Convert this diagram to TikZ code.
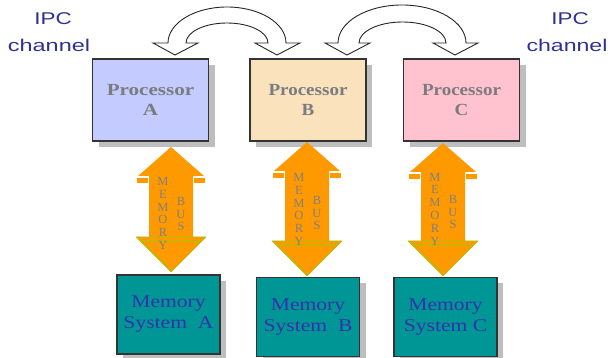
\documentclass[tikz,border=0pt]{standalone}
\usepackage{fontspec}
\usepackage{graphicx}
\setmainfont{Liberation Serif}
\newfontfamily\ipcfont{Liberation Sans}
\usetikzlibrary{shadows}
\definecolor{procA}{RGB}{196,204,255}
\definecolor{procB}{RGB}{250,226,188}
\definecolor{procC}{RGB}{255,194,206}
\definecolor{memteal}{RGB}{0,150,150}
\definecolor{ipcblue}{RGB}{46,49,146}
\definecolor{memtext}{RGB}{51,51,170}
\definecolor{proctext}{RGB}{122,124,128}
\definecolor{busorange}{RGB}{255,153,0}
\definecolor{busgreen}{RGB}{160,200,0}
\definecolor{shadowgray}{RGB}{190,190,190}
\newcommand{\sx}[2]{\scalebox{#1}[1]{#2}}
\tikzset{
  box/.style={draw=black!80, line width=1.2pt, inner sep=0pt,
    drop shadow={shadow xshift=6pt, shadow yshift=-6pt, fill=shadowgray, opacity=1}},
  procbox/.style={box, minimum width=116pt, minimum height=82pt, align=center,
    text=proctext, font=\bfseries\fontsize{17}{19.5}\selectfont},
  membox/.style={box, fill=memteal, minimum width=103pt, minimum height=79pt,
    align=center, text=memtext, font=\fontsize{18}{21}\selectfont},
  ipclabel/.style={text=ipcblue, font=\ipcfont\fontsize{17}{20}\selectfont,
    inner sep=0pt, anchor=base},
  buslabel/.style={text=black!50, align=center, inner sep=0pt,
    font=\fontsize{12.5}{12.8}\selectfont},
  ipcarrow/.style={draw=black!85, line width=0.9pt, fill=white, line join=miter},
  busbevel/.style={draw=busgreen, line width=0.7pt, line join=round},
}
% cx, top tip y, bottom tip y, suffix, MEMORY y, BUS y
\newcommand{\membus}[6]{%
  \fill[busorange] (#1,#2) -- ({#1+33},{#2+29}) -- ({#1+22},{#2+29})
    -- ({#1+22},{#3-35}) -- ({#1+35},{#3-35}) -- (#1,#3) -- ({#1-35},{#3-35})
    -- ({#1-22},{#3-35}) -- ({#1-22},{#2+29}) -- ({#1-33},{#2+29}) -- cycle;
  \fill[busorange] ({#1-34},{#2+31}) rectangle ({#1-23},{#2+36});
  \fill[busorange] ({#1+23},{#2+31}) rectangle ({#1+34},{#2+36});
  \draw[busbevel] ({#1-35},{#3-35}) -- ({#1+35},{#3-35}) -- (#1,#3) -- cycle;
  \draw[busbevel, line width=0.5pt] ({#1-31},{#3-31}) -- ({#1+31},{#3-31});
  \draw[busbevel, line width=0.5pt] ({#1-31},{#3-31}) -- ({#1},{#3-3});
  \node[buslabel] (mem#4) at ({#1-8},#5) {M\\E\\M\\O\\R\\Y};
  \node[buslabel] (bus#4) at ({#1+10},#6) {B\\U\\S};
}
\begin{document}
\begin{tikzpicture}[x=1pt,y=-1pt]
\useasboundingbox (0,0) rectangle (608,358);

% IPC labels
\node[ipclabel] (ipcL1) at (53,25) {\sx{1.32}{IPC}};
\node[ipclabel] (ipcL2) at (49,52) {\sx{1.38}{channel}};
\node[ipclabel] (ipcR1) at (570,25) {\sx{1.32}{IPC}};
\node[ipclabel] (ipcR2) at (567,52) {\sx{1.36}{channel}};

% processors
\node[procbox, fill=procA] (pA) at (150.5,100) {\sx{1.24}{Processor}\\\sx{1.24}{A}};
\node[procbox, fill=procB] (pB) at (308,100) {\sx{1.12}{Processor}\\\sx{1.12}{B}};
\node[procbox, fill=procC] (pC) at (461.5,100) {\sx{1.12}{Processor}\\\sx{1.12}{C}};

% memory systems
\node[membox] (mA) at (168.5,314.5) {\sx{1.2}{Memory}\\\sx{1.2}{System\ \ A}};
\node[membox] (mB) at (308,317) {\sx{1.2}{Memory}\\\sx{1.2}{System\ \ B}};
\node[membox] (mC) at (445.5,317) {\sx{1.2}{Memory}\\\sx{1.2}{System C}};

% memory buses
\membus{171}{147}{272}{A}{213.5}{214}
\membus{307}{142}{276}{B}{209.5}{213}
\membus{443}{143}{276}{C}{209}{212}

% IPC channel arrows
\draw[ipcarrow] (168,43) arc[start angle=180, end angle=0, x radius=59pt, y radius=36pt]
  -- (300,43) -- (277,55) -- (255,43) -- (268,43)
  arc[start angle=0, end angle=180, x radius=41pt, y radius=20pt]
  -- (198,43) -- (175,55) -- (153,43) -- cycle;
\draw[ipcarrow] (338,43) arc[start angle=180, end angle=0, x radius=64pt, y radius=38pt]
  -- (478,43) -- (455,55) -- (433,43) -- (446,43)
  arc[start angle=0, end angle=180, x radius=43.5pt, y radius=21pt]
  -- (370,43) -- (347,55) -- (325,43) -- cycle;
\end{tikzpicture}
\end{document}
